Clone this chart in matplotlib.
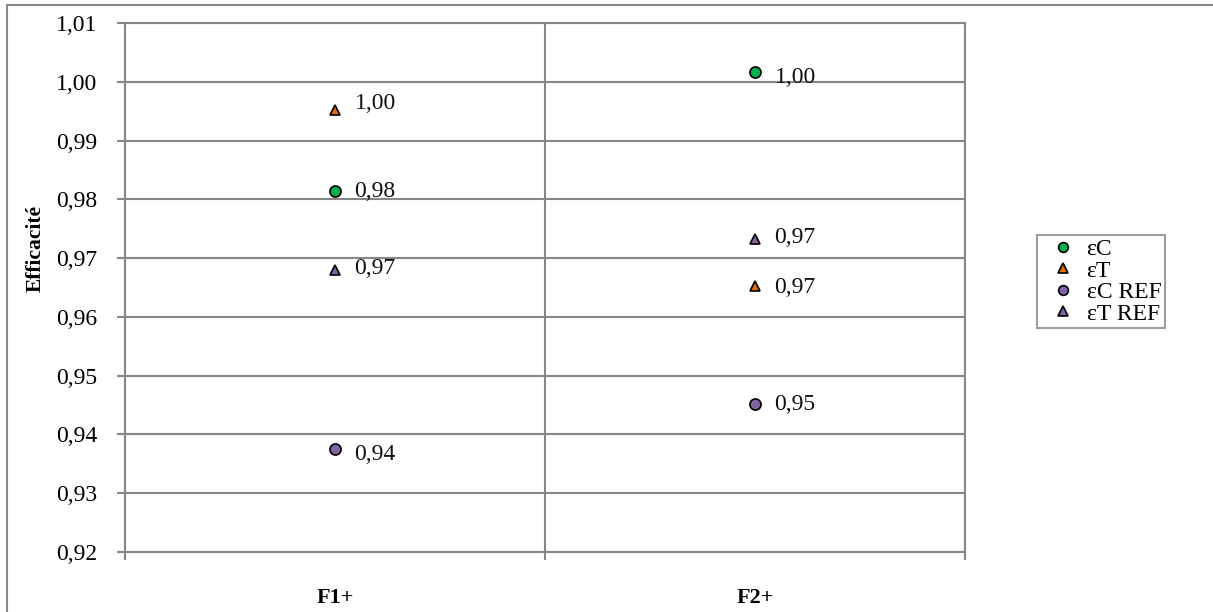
import matplotlib
matplotlib.use("Agg")
import matplotlib.pyplot as plt
from matplotlib.lines import Line2D

plt.rcParams['font.family'] = ['Liberation Serif', 'DejaVu Serif']

categories = ["F1+", "F2+"]
series = ["εC", "εT", "εC REF", "εT REF"]
eC = [0.9815, 1.0016]
eT = [0.9952, 0.9652]
eC_ref = [0.9375, 0.9451]
eT_ref = [0.9680, 0.9732]
labels = {
    "εC": ["0,98", "1,00"],
    "εT": ["1,00", "0,97"],
    "εC REF": ["0,94", "0,95"],
    "εT REF": ["0,97", "0,97"],
}
yticks = [0.92, 0.93, 0.94, 0.95, 0.96, 0.97, 0.98, 0.99, 1.00, 1.01]

styles = {
    "εC": dict(marker="o", color="#00B050"),
    "εT": dict(marker="^", color="#E36C09"),
    "εC REF": dict(marker="o", color="#8064A2"),
    "εT REF": dict(marker="^", color="#8064A2"),
}
# vertical nudge of value labels (points), per series and category
label_dy = {
    "εC": [-1, -4],
    "εT": [5, -1],
    "εC REF": [-4, 0],
    "εT REF": [1, 1],
}

grey = "#868686"
fig = plt.figure(figsize=(12.13, 6.12), dpi=100)
ax = fig.add_axes([125 / 1213, 1 - 552 / 612, 840 / 1213, 529 / 612])

xs = [1, 2]
for name, vals in zip(series, [eC, eT, eC_ref, eT_ref]):
    st = styles[name]
    ms = 8 if st["marker"] == "o" else 7.5
    ax.plot(xs, vals, linestyle="none", marker=st["marker"], markersize=ms,
            markerfacecolor=st["color"], markeredgecolor="black",
            markeredgewidth=1.2, label=name, zorder=3)
    for x, v, t, dy in zip(xs, vals, labels[name], label_dy[name]):
        ax.annotate(t, (x, v), xytext=(14, dy), textcoords="offset points",
                    ha="left", va="center", fontsize=17, color="#111111")

ax.set_xlim(0.5, 2.5)
ax.set_ylim(0.92, 1.01)
ax.set_yticks(yticks)
ax.set_yticklabels([f"{t:.2f}".replace(".", ",") for t in yticks], fontsize=17)
ax.set_xticks([0.5, 1.5, 2.5])
ax.set_xticklabels([])
ax.set_xticks(xs, minor=True)
ax.set_xticklabels(categories, minor=True, fontsize=16, fontweight="bold")
ax.tick_params(axis="x", which="major", length=6, width=1.5, color=grey, direction="out")
ax.tick_params(axis="x", which="minor", length=0, pad=26)
ax.tick_params(axis="y", length=6, width=1.5, color=grey, pad=14)

ax.grid(axis="y", color=grey, linewidth=1.5)
ax.grid(axis="x", which="major", color=grey, linewidth=1.5)
for s in ax.spines.values():
    s.set_color(grey)
    s.set_linewidth(1.5)

ax.set_ylabel("Efficacité", fontsize=15.5, fontweight="bold")
ax.yaxis.set_label_coords(-0.094, 0.573)

leg = ax.legend(loc="upper left", bbox_to_anchor=(1037 / 1213, 1 - 235 / 612),
                bbox_transform=fig.transFigure, frameon=True, fancybox=False,
                fontsize=17, handletextpad=0.05, handlelength=1.9,
                borderpad=0.15, labelspacing=0.0, borderaxespad=0)
leg.get_frame().set_edgecolor(grey)
leg.get_frame().set_linewidth(1.5)
for h in leg.legend_handles:
    h.set_markersize(7)

# chart outer frame
fig.add_artist(Line2D([7 / 1213, 7 / 1213], [0, 1 - 5 / 612], transform=fig.transFigure,
                      color=grey, linewidth=1.5))
fig.add_artist(Line2D([7 / 1213, 1], [1 - 5 / 612, 1 - 5 / 612], transform=fig.transFigure,
                      color=grey, linewidth=1.5))

fig.savefig("out.png", dpi=100)
